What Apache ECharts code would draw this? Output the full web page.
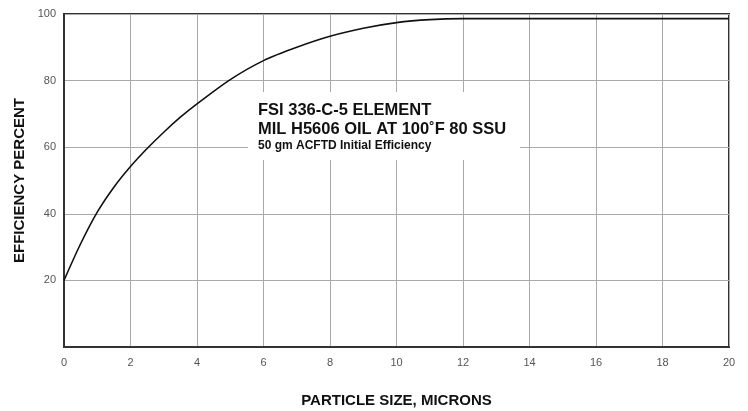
<!DOCTYPE html>
<html>
<head>
<meta charset="utf-8">
<script src="https://cdn.jsdelivr.net/npm/echarts@6/dist/echarts.min.js"></script>
<style>
  html, body { margin: 0; padding: 0; background: #fff; }
  #chart { width: 748px; height: 411px; }
</style>
</head>
<body>
<div id="chart"></div>
<script>
// particle size (microns) vs efficiency (%)
var sizes      = [0, 0.5, 1, 1.5, 2, 2.5, 3, 3.5, 4, 5, 6, 7, 8, 9, 10, 11, 12, 14, 16, 18, 20];
var efficiency = [20, 31, 40.5, 48, 54.2, 59.6, 64.5, 69, 73, 80.3, 86, 90, 93.3, 95.7, 97.4, 98.3, 98.6, 98.6, 98.6, 98.6, 98.6];

var titleLines = ['FSI 336-C-5 ELEMENT', 'MIL H5606 OIL AT 100˚F 80 SSU'];
var subLine = '50 gm ACFTD Initial Efficiency';

var points = sizes.map(function (s, i) { return [s, efficiency[i]]; });

var chart = echarts.init(document.getElementById('chart'), null, { renderer: 'canvas' });

chart.setOption({
  animation: false,
  backgroundColor: '#fff',
  textStyle: { fontFamily: 'Liberation Sans, Arial, sans-serif' },
  grid: {
    left: 64, right: 19, top: 14, bottom: 64,
    outerBoundsMode: 'none',
    containLabel: false,
    show: true, borderColor: '#333', borderWidth: 2
  },
  xAxis: {
    type: 'value', min: 0, max: 20, interval: 2,
    name: 'PARTICLE SIZE, MICRONS',
    nameLocation: 'middle', nameGap: 46,
    nameMoveOverlap: false,
    nameTextStyle: { fontSize: 15, fontWeight: 'bold', color: '#111' },
    axisLine: { show: true, lineStyle: { color: '#333', width: 2 } },
    axisTick: { show: false },
    axisLabel: { color: '#555', fontSize: 11, margin: 10 },
    splitLine: { show: true, lineStyle: { color: '#aaa', width: 1 } }
  },
  yAxis: {
    type: 'value', min: 0, max: 100, interval: 20,
    name: 'EFFICIENCY PERCENT',
    nameLocation: 'middle', nameGap: 37,
    nameMoveOverlap: false,
    nameTextStyle: { fontSize: 15, fontWeight: 'bold', color: '#111' },
    axisLine: { show: true, lineStyle: { color: '#333', width: 2 } },
    axisTick: { show: false },
    axisLabel: {
      color: '#555', fontSize: 11, margin: 8,
      formatter: function (v) { return v === 0 ? '' : v; }
    },
    splitLine: { show: true, lineStyle: { color: '#aaa', width: 1 } }
  },
  graphic: [
    {
      type: 'rect', left: 248, top: 92, z: 10,
      shape: { width: 272, height: 68 },
      style: { fill: '#fff' }
    },
    {
      type: 'text', left: 258, top: 101, z: 11,
      style: {
        text: titleLines.join('\n'),
        font: 'bold 16.5px "Liberation Sans", Arial, sans-serif',
        lineHeight: 19, fill: '#111'
      }
    },
    {
      type: 'text', left: 258, top: 140, z: 11,
      style: {
        text: subLine,
        font: 'bold 12px "Liberation Sans", Arial, sans-serif',
        fill: '#111'
      }
    }
  ],
  series: [{
    type: 'line',
    data: points,
    smooth: 0.3,
    symbol: 'none',
    lineStyle: { color: '#111', width: 1.6 },
    z: 5
  }]
});
</script>
</body>
</html>
